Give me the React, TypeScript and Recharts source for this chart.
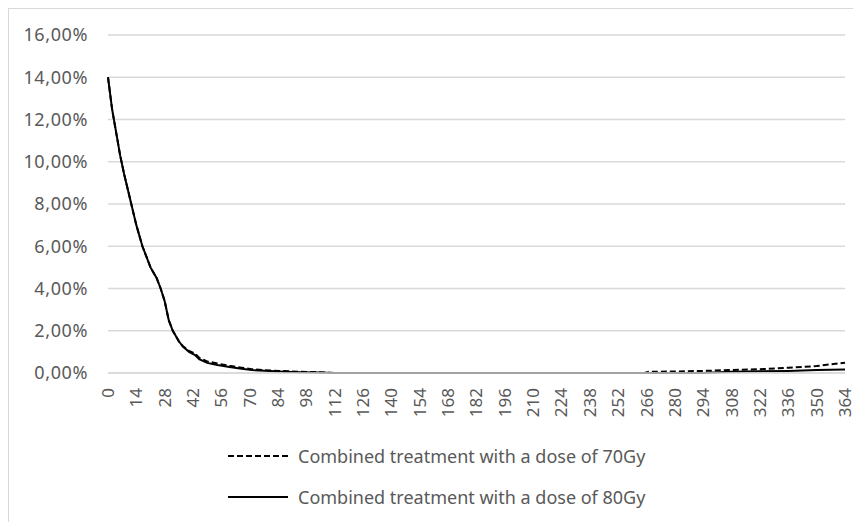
import { CartesianGrid, Legend, Line, LineChart, XAxis, YAxis } from "recharts";

// days (numeric x axis, day 0..364)
const days = [
  0, 2, 4, 6, 8, 10, 12, 14, 17, 21, 24, 26, 28, 30, 32, 35, 37, 40, 43, 45,
  49, 54, 60, 66, 71, 80, 87, 95, 104, 112, 126, 154, 182, 210, 238, 252, 265,
  267, 280, 294, 308, 322, 336, 350, 364,
];

// percent values
const dose70 = [
  14.0, 12.5, 11.4, 10.3, 9.4, 8.6, 7.8, 7.0, 6.0, 5.0, 4.5, 4.0, 3.4, 2.5,
  2.0, 1.5, 1.27, 1.05, 0.92, 0.72, 0.55, 0.45, 0.34, 0.25, 0.18, 0.12, 0.09,
  0.06, 0.04, 0.0, 0.0, 0.0, 0.0, 0.0, 0.0, 0.0, 0.0, 0.06, 0.07, 0.1, 0.14,
  0.18, 0.25, 0.33, 0.49,
];

const dose80 = [
  14.0, 12.5, 11.4, 10.3, 9.4, 8.6, 7.8, 7.0, 6.0, 5.0, 4.5, 4.0, 3.4, 2.5,
  2.0, 1.5, 1.25, 1.0, 0.85, 0.65, 0.48, 0.38, 0.28, 0.2, 0.14, 0.09, 0.06,
  0.04, 0.02, 0.0, 0.0, 0.0, 0.0, 0.0, 0.0, 0.0, 0.0, 0.0, 0.0, 0.0, 0.06,
  0.08, 0.1, 0.14, 0.17,
];

const xTicks = [
  0, 14, 28, 42, 56, 70, 84, 98, 112, 126, 140, 154, 168, 182, 196, 210, 224,
  238, 252, 266, 280, 294, 308, 322, 336, 350, 364,
];
const yTicks = [0, 2, 4, 6, 8, 10, 12, 14, 16];

const seriesNames = [
  "Combined treatment with a dose of 70Gy",
  "Combined treatment with a dose of 80Gy",
];

const theme = {
  grid: "#d9d9d9",
  text: "#595959",
  line: "#000000",
  font: "'Noto Sans', sans-serif",
};

const data = days.map((day, i) => ({
  day,
  d70: dose70[i],
  d80: dose80[i],
}));

const pct = (v: number) => `${v.toFixed(2).replace(".", ",")}%`;

function XTick({ x, y, payload }: any) {
  return (
    <g transform={`translate(${x},${y})`}>
      <text
        x={-15}
        y={0}
        dy="0.35em"
        textAnchor="end"
        transform="rotate(-90)"
        fill={theme.text}
        fontSize={17}
        fontFamily={theme.font}
      >
        {payload.value}
      </text>
    </g>
  );
}

function LegendBox() {
  const items = [
    { name: seriesNames[0], dash: "6 3", center: 29 },
    { name: seriesNames[1], dash: undefined, center: 70 },
  ];
  return (
    <div style={{ position: "relative", height: 95, width: "100%" }}>
      {items.map((item) => (
        <div
          key={item.name}
          style={{
            position: "absolute",
            left: 219,
            top: item.center - 12,
            height: 24,
            display: "flex",
            alignItems: "center",
            whiteSpace: "nowrap",
          }}
        >
          <svg width={60} height={4} style={{ marginRight: 10 }}>
            <line
              x1={0}
              y1={2}
              x2={60}
              y2={2}
              stroke={theme.line}
              strokeWidth={2}
              strokeDasharray={item.dash}
            />
          </svg>
          <span
            style={{
              fontFamily: theme.font,
              fontSize: 18,
              color: theme.text,
              lineHeight: "24px",
            }}
          >
            {item.name}
          </span>
        </div>
      ))}
    </div>
  );
}

export default function App() {
  return (
    <div
      style={{
        width: 853,
        height: 514,
        borderTop: `1px solid ${theme.grid}`,
        borderLeft: `1px solid ${theme.grid}`,
        boxSizing: "border-box",
        background: "#fff",
      }}
    >
      <LineChart
        width={852}
        height={513}
        data={data}
        margin={{ top: 26, right: 16, bottom: 0, left: 0 }}
      >
        <CartesianGrid stroke={theme.grid} vertical={false} strokeWidth={1.5} />
        <XAxis
          dataKey="day"
          type="number"
          domain={[0, 364]}
          ticks={xTicks}
          interval={0}
          height={54}
          tick={<XTick />}
          tickLine={false}
          tickSize={0}
          tickMargin={0}
          axisLine={{ stroke: theme.grid, strokeWidth: 1.5 }}
        />
        <YAxis
          domain={[0, 16]}
          ticks={yTicks}
          width={99}
          tickFormatter={pct}
          tick={{
            fill: theme.text,
            fontSize: 18,
            fontFamily: theme.font,
            letterSpacing: 0.6,
          }}
          tickLine={false}
          tickSize={0}
          tickMargin={20}
          axisLine={false}
        />
        <Legend verticalAlign="bottom" content={<LegendBox />} />
        <Line
          dataKey="d70"
          name={seriesNames[0]}
          stroke={theme.line}
          strokeWidth={2}
          strokeDasharray="6 3"
          dot={false}
          type="linear"
          isAnimationActive={false}
        />
        <Line
          dataKey="d80"
          name={seriesNames[1]}
          stroke={theme.line}
          strokeWidth={2}
          dot={false}
          type="linear"
          isAnimationActive={false}
        />
      </LineChart>
    </div>
  );
}
